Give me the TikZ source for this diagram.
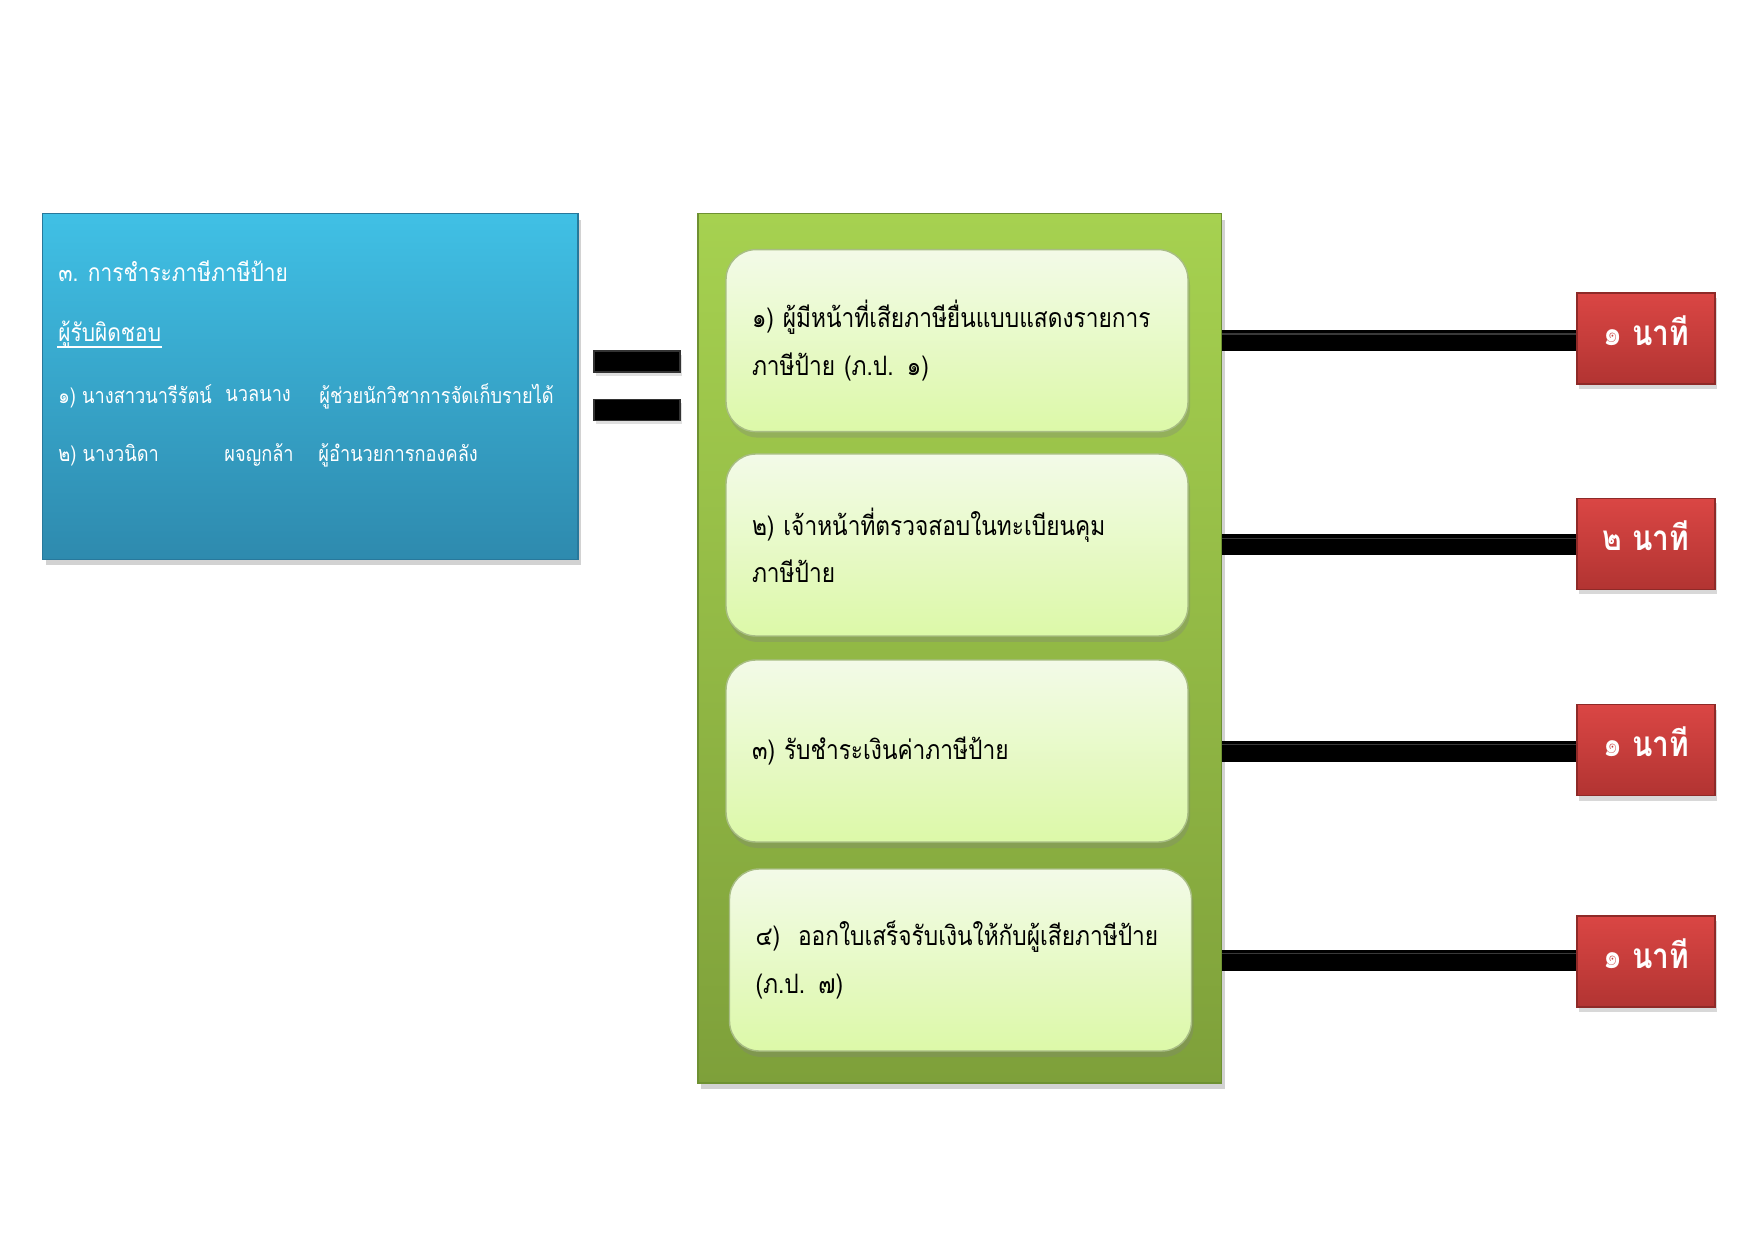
\documentclass[tikz,border=0pt]{standalone}
\usepackage{fontspec}
\setmainfont[Script=Thai, FakeStretch=0.85]{Loma}
\usetikzlibrary{shadows}

\definecolor{bluetop}{RGB}{64,192,229}
\definecolor{bluebot}{RGB}{46,138,174}
\definecolor{blueline}{RGB}{40,120,155}
\definecolor{greentop}{RGB}{166,209,80}
\definecolor{greenbot}{RGB}{126,160,58}
\definecolor{greenline}{RGB}{110,145,50}
\definecolor{steptop}{RGB}{243,250,232}
\definecolor{stepbot}{RGB}{220,249,168}
\definecolor{redtop}{RGB}{218,70,68}
\definecolor{redbot}{RGB}{178,52,50}

\begin{document}
\begin{tikzpicture}[x=0.1mm, y=-0.1mm, thick,
	every node/.style={font=\fontsize{7.6}{13.4}\selectfont},
	infobox/.style={rectangle, minimum width=53.55mm, minimum height=34.57mm, top color=bluetop, bottom color=bluebot, draw=blueline, thin, drop shadow={opacity=0.35, shadow xshift=0.3mm, shadow yshift=-0.6mm}},
	infotext/.style={anchor=west, inner sep=0pt, text=white, font=\fontsize{7}{8}\selectfont},
	rowtext/.style={infotext, font=\fontsize{6.1}{8}\selectfont},
	group/.style={rectangle, minimum width=52.35mm, minimum height=86.94mm, top color=greentop, bottom color=greenbot, draw=greenline, thin, drop shadow={opacity=0.35, shadow xshift=0.3mm, shadow yshift=-0.6mm}},
	stepbox/.style={rectangle, rounded corners=3mm, minimum width=46.2mm, minimum height=18.2mm, text width=41mm, align=left, top color=steptop, bottom color=stepbot, draw=greenline!60, thin, drop shadow={opacity=0.3, shadow xshift=0.2mm, shadow yshift=-0.6mm}},
	timebox/.style={rectangle, minimum width=13.8mm, minimum height=9.1mm, text depth=1.6mm, top color=redtop, bottom color=redbot, draw=redbot!80!black, thin, text=white, font=\fontsize{10}{11}\selectfont\bfseries, drop shadow={opacity=0.3, shadow xshift=0.2mm, shadow yshift=-0.5mm}},
	eqbar/.style={rectangle, minimum width=8.6mm, minimum height=2.1mm, inner sep=0pt, fill=black, draw=gray!40!black, thin, drop shadow={opacity=0.25, shadow xshift=0.2mm, shadow yshift=-0.4mm}},
	bar/.style={line width=2.1mm, black, postaction={draw, line width=0.15mm, gray!45!black, transform canvas={yshift=0.65mm}}}]
	% page
	\fill[white] (0,0) rectangle (1754,1241);
	\useasboundingbox (0,0) rectangle (1754,1241);
	
	% left box
	\node[infobox] (info) at (310.25,386.5) {};
	\node[infotext] (title) at (57,271) {๓. การชำระภาษีภาษีป้าย};
	\node[infotext] (resp) at (57,334) {ผู้รับผิดชอบ};
	\draw[white, thin] ([yshift=-0.6mm]resp.base west) -- ([yshift=-0.6mm]resp.base east);
	\node[rowtext] (r1a) at (57,396) {๑) นางสาวนารีรัตน์};
	\node[rowtext] (r1b) at (224,396) {นวลนาง};
	\node[rowtext] (r1c) at (318,396) {ผู้ช่วยนักวิชาการจัดเก็บรายได้};
	\node[rowtext] (r2a) at (57,455) {๒) นางวนิดา};
	\node[rowtext] (r2b) at (223,455) {ผจญกล้า};
	\node[rowtext] (r2c) at (317,455) {ผู้อำนวยการกองคลัง};
	
	% equals sign
	\node[eqbar] (eqa) at (637,361.5) {};
	\node[eqbar] (eqb) at (637,410) {};
	
	% green group with steps
	\node[group] (grp) at (959.75,648.3) {};
	\node[stepbox] (s1) at (957,340.6) {๑) ผู้มีหน้าที่เสียภาษียื่นแบบแสดงรายการ\\ภาษีป้าย (ภ.ป. ๑)};
	\node[stepbox] (s2) at (957,545) {๒) เจ้าหน้าที่ตรวจสอบในทะเบียนคุม\\ภาษีป้าย};
	\node[stepbox] (s3) at (957,751) {๓) รับชำระเงินค่าภาษีป้าย};
	\node[stepbox] (s4) at (960.5,960) {๔)\ \ ออกใบเสร็จรับเงินให้กับผู้เสียภาษีป้าย\\(ภ.ป. ๗)};
	
	% time boxes
	\node[timebox] (t1) at (1646,338.5) {๑ นาที};
	\node[timebox] (t2) at (1646,544) {๒ นาที};
	\node[timebox] (t3) at (1646,750) {๑ นาที};
	\node[timebox] (t4) at (1646,961.5) {๑ นาที};
	
	% bars
	\draw[bar] (grp.east |- s1) -- (s1 -| t1.west);
	\draw[bar] (grp.east |- s2) -- (s2 -| t2.west);
	\draw[bar] (grp.east |- s3) -- (s3 -| t3.west);
	\draw[bar] (grp.east |- s4) -- (s4 -| t4.west);
\end{tikzpicture}
\end{document}
